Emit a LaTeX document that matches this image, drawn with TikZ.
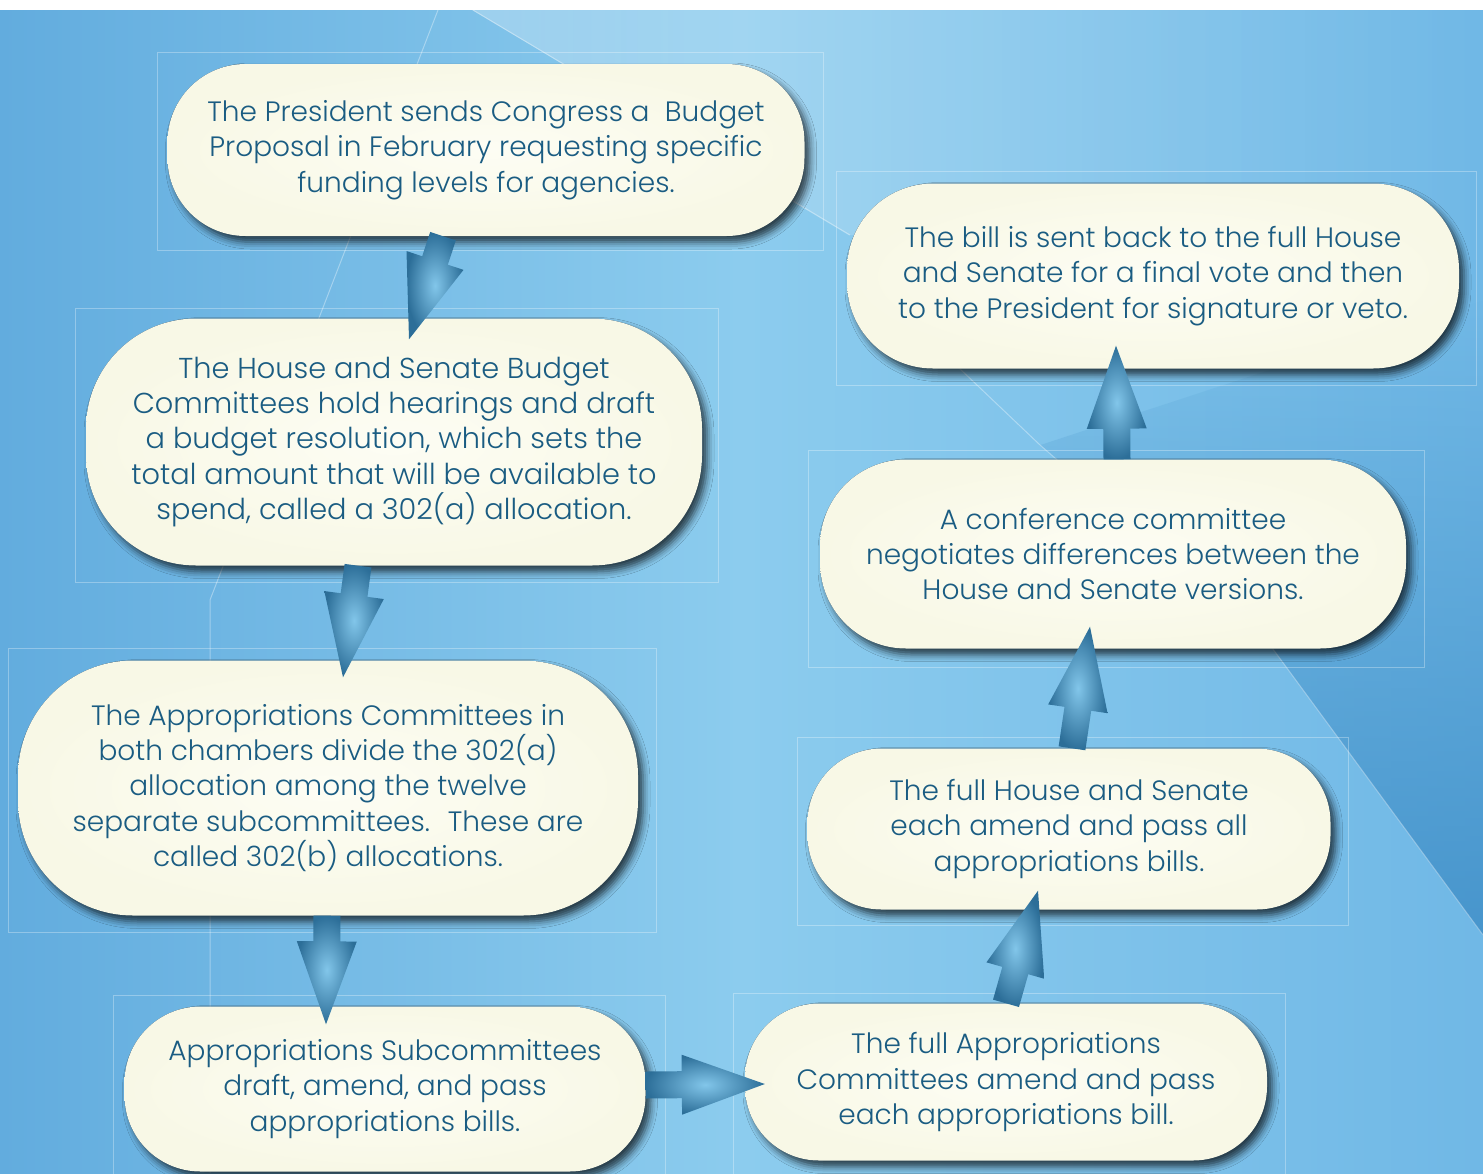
\documentclass[tikz,border=0pt]{standalone}
\usepackage{fontspec}
\newfontfamily\stepfont{Poppins}[UprightFont=* Light]
\usetikzlibrary{calc, fadings, shadows.blur}

\definecolor{skyleft}{RGB}{98,172,222}
\definecolor{skymid}{RGB}{140,204,238}
\definecolor{skyright}{RGB}{112,184,230}
\definecolor{skydeep}{RGB}{58,138,196}
\definecolor{cream}{RGB}{248,248,230}
\definecolor{creamlight}{RGB}{253,253,244}
\definecolor{ink}{RGB}{26,92,130}
\definecolor{arrowdark}{RGB}{44,110,152}
\definecolor{arrowlight}{RGB}{130,198,234}
\definecolor{shadowblue}{RGB}{14,46,72}

\tikzset{
  stepbox/.style={rectangle, inner sep=0pt, align=center, text=ink,
    font=\stepfont\fontsize{28}{35.3}\selectfont,
    shading=radial, inner color=creamlight, outer color=cream,
    blur shadow={shadow xshift=5pt, shadow yshift=-6pt, shadow blur radius=7pt,
      shadow opacity=70, fill=shadowblue}},
  widetext/.style={font=\stepfont\fontsize{28.8}{35.3}\selectfont},
  frame/.style={draw=white, draw opacity=0.3, line width=1pt},
  streak/.style={draw=white, draw opacity=0.35, line width=1pt},
  arrowshade/.style={shading=radial, inner color=arrowlight, outer color=arrowdark},
}

% block arrow from #1 to the tip #2
\newcommand\flowarrow[2]{%
  \coordinate (s) at (#1);
  \coordinate (t) at (#2);
  \coordinate (h) at ($(t)!83pt!(s)$);
  \shade[arrowshade] ($(s)!13.5pt!90:(t)$) -- ($(h)!13.5pt!90:(t)$)
    -- ($(h)!30pt!90:(t)$) -- (t) -- ($(h)!30pt!-90:(t)$)
    -- ($(h)!13.5pt!-90:(t)$) -- ($(s)!13.5pt!-90:(t)$) -- cycle;
}

\begin{document}
\begin{tikzpicture}[x=1pt, y=-1pt]
  %tikz  budget and appropriations steps
  \useasboundingbox (0,0) rectangle (1483,1173);
  \fill[white] (0,0) rectangle (1483,10);
  \shade[left color=skyleft, right color=skyright, middle color=skymid] (0,10) rectangle (1483,1173);
  \fill[white, path fading=east, fill opacity=0.25] (473,10) -- (850,235) -- (1483,235) -- (1483,10) -- cycle;
  \fill[skydeep, path fading=north, fill opacity=0.75] (1040,445) -- (1270,645) -- (1483,935) -- (1483,300) -- cycle;
  \draw[streak] (438,10) -- (210,600) -- (210,1173);
  \draw[streak] (473,10) -- (850,235);
  \draw[streak] (958,367) -- (1040,445) -- (1270,645) -- (1483,935);
  \foreach \xa/\ya/\xb/\yb in {157/52/823/250, 75/308/718/582, 8/648/656/932, 113/995/665/1180,
      733/993/1285/1180, 797/737/1348/925, 808/450/1424/667, 836/171/1476/385}{
    \draw[frame] (\xa,\ya) rectangle (\xb,\yb);
  }

  \node[stepbox, minimum width=637pt, minimum height=172pt, rounded corners=78pt] (b1) at (486,150)
    {The President sends Congress a~ Budget\\Proposal in February requesting specific\\funding levels for agencies.};
  \node[stepbox, widetext, minimum width=616pt, minimum height=247pt, rounded corners=110pt] (b2) at (394,442)
    {The House and Senate Budget\\Committees hold hearings and draft\\a budget resolution, which sets the\\total amount that will be available to\\spend, called a 302(a) allocation.};
  \node[stepbox, minimum width=620pt, minimum height=255pt, rounded corners=115pt] (b3) at (328,788)
    {The Appropriations Committees in\\both chambers divide the 302(a)\\allocation among the twelve\\separate subcommittees.~ These are\\called 302(b) allocations.};
  \node[stepbox, minimum width=521pt, minimum height=165pt, rounded corners=76pt] (b4) at (385,1089)
    {Appropriations Subcommittees\\draft, amend, and pass\\appropriations bills.};
  \node[stepbox, minimum width=522pt, minimum height=157pt, rounded corners=74pt] (b5) at (1006,1082)
    {The full Appropriations\\Committees amend and pass\\each appropriations bill.};
  \node[stepbox, minimum width=523pt, minimum height=161pt, rounded corners=74pt] (b6) at (1069,829)
    {The full House and Senate\\each amend and pass all\\appropriations bills.};
  \node[stepbox, minimum width=586pt, minimum height=189pt, rounded corners=86pt] (b7) at (1113,554)
    {A conference committee\\negotiates differences between the\\House and Senate versions.};
  \node[stepbox, minimum width=612pt, minimum height=185pt, rounded corners=86pt] (b8) at (1153,276)
    {The bill is sent back to the full House\\and Senate for a final vote and then\\to the President for signature or veto.};

  \flowarrow{[xshift=-43pt]b1.south}{[xshift=15pt, yshift=-21pt]b2.north}
  \flowarrow{[xshift=-36pt]b2.south}{[xshift=15pt, yshift=-17pt]b3.north}
  \flowarrow{[xshift=-1pt]b3.south}{[xshift=-59pt, yshift=-18pt]b4.north}
  \flowarrow{[yshift=4pt]b4.east}{[xshift=20pt, yshift=-2pt]b5.west}
  \flowarrow{b5.north}{[xshift=-31pt, yshift=19pt]b6.south}
  \flowarrow{[xshift=3pt]b6.north}{[xshift=-23pt, yshift=22pt]b7.south}
  \flowarrow{[xshift=4pt]b7.north}{[xshift=-37pt, yshift=23pt]b8.south}
\end{tikzpicture}
\end{document}
